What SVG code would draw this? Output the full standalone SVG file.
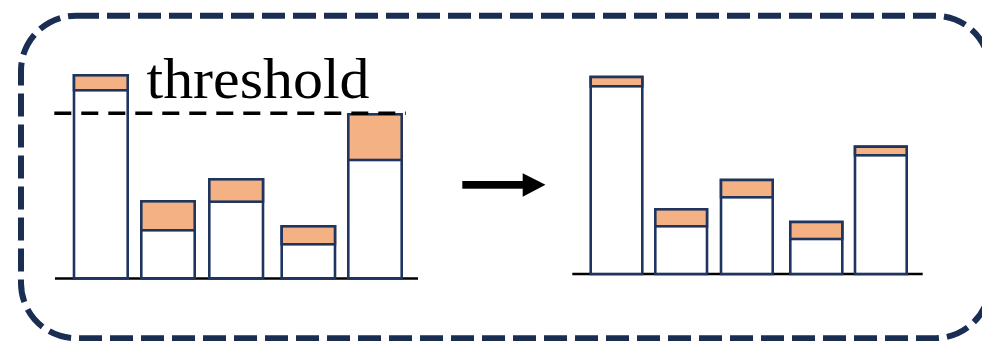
<svg xmlns="http://www.w3.org/2000/svg" width="982" height="341" viewBox="0 0 982 341">
<style>
.frame{fill:none;stroke:#1a2d52;stroke-width:6;stroke-dasharray:23 8}
.bar{fill:#ffffff;stroke:#1f3560;stroke-width:2.6}
.top{fill:#f4b183;stroke:#1f3560;stroke-width:2.6}
.base{stroke:#000;stroke-width:2.5}
.thr{stroke:#000;stroke-width:3.5;stroke-dasharray:17 10}
.lbl{font-family:"Liberation Serif","Times New Roman",serif;font-size:58px;fill:#000}
</style>
<rect class="frame" x="21" y="15.7" width="969" height="322.5" rx="55" ry="55"/>
<g id="left-chart">
<line class="base" x1="55" y1="278.5" x2="418" y2="278.5"/>
<g id="L1"><rect class="bar" x="74" y="75.3" width="53.7" height="203"/><rect class="top" x="74" y="75.3" width="53.7" height="15"/></g>
<g id="L2"><rect class="bar" x="141.3" y="201.3" width="53.4" height="77"/><rect class="top" x="141.3" y="201.3" width="53.4" height="29"/></g>
<g id="L3"><rect class="bar" x="209.3" y="179.3" width="53.7" height="99"/><rect class="top" x="209.3" y="179.3" width="53.7" height="22.4"/></g>
<g id="L4"><rect class="bar" x="281.7" y="226.3" width="53.3" height="52"/><rect class="top" x="281.7" y="226.3" width="53.3" height="18"/></g>
<g id="L5"><rect class="bar" x="348.3" y="114.3" width="53.4" height="164"/><rect class="top" x="348.3" y="114.3" width="53.4" height="45.7"/></g>
<line class="thr" x1="54.3" y1="113.3" x2="406" y2="113.3"/>
<text class="lbl" x="146.5" y="97.7" textLength="223" lengthAdjust="spacingAndGlyphs">threshold</text>
</g>
<g id="connectors">
<rect x="462.3" y="181" width="61" height="7.7" fill="#000"/>
<polygon points="522.7,173.3 545.5,184.8 522.7,196.7" fill="#000"/>
</g>
<g id="right-chart">
<line class="base" x1="572.3" y1="274" x2="922.7" y2="274"/>
<g id="R1"><rect class="bar" x="590.7" y="77" width="51.6" height="197"/><rect class="top" x="590.7" y="77" width="51.6" height="9.3"/></g>
<g id="R2"><rect class="bar" x="655.3" y="209.3" width="51.7" height="64.7"/><rect class="top" x="655.3" y="209.3" width="51.7" height="17"/></g>
<g id="R3"><rect class="bar" x="721" y="180" width="51.7" height="94"/><rect class="top" x="721" y="180" width="51.7" height="17.3"/></g>
<g id="R4"><rect class="bar" x="790.3" y="222" width="52" height="52"/><rect class="top" x="790.3" y="222" width="52" height="17"/></g>
<g id="R5"><rect class="bar" x="855" y="146.7" width="51.7" height="127.3"/><rect class="top" x="855" y="146.7" width="51.7" height="8.6"/></g>
</g>
</svg>
